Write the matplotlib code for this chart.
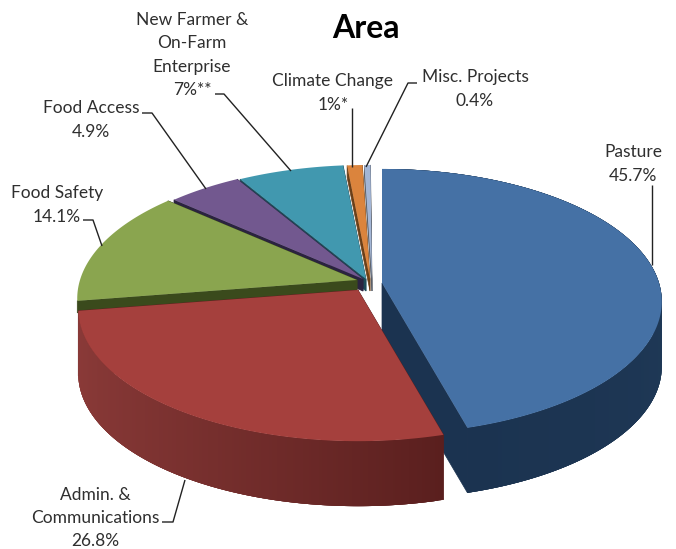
import numpy as np
import matplotlib
matplotlib.use('Agg')
import matplotlib.pyplot as plt
from matplotlib.collections import PolyCollection
from matplotlib.colors import to_rgb

# Share of funding by area, clockwise from twelve o'clock
areas = ['Pasture', 'Admin. &\nCommunications', 'Food Safety', 'Food Access',
         'New Farmer &\nOn-Farm\nEnterprise', 'Climate Change', 'Misc. Projects']
shares = [45.7, 26.8, 14.1, 4.9, 7, 1, 0.4]
share_text = ['45.7%', '26.8%', '14.1%', '4.9%', '7%**', '1%*', '0.4%']

top_colors = ['#4571A5', '#A5403D', '#8AA54F', '#72588F', '#4198AF', '#DB843D', '#A3B6D6']
rim_dark = ['#1B3350', '#5A1F1E', '#3A4A1C', '#2B2340', '#1E4A58', '#6B3F18', '#5A5F68']
rim_light = ['#24405F', '#8A3A38', '#3A4A1C', '#2B2340', '#1E4A58', '#6B3F18', '#5A5F68']

# pie centre of each slice (slices are pulled apart by different amounts)
centres = [(382, 283), (358, 290), (357, 280), (363, 279), (366, 279), (370, 279), (372, 279)]
# drawing order, back to front
order = [0, 6, 5, 4, 3, 2, 1]

RX = 277
RY = 130
PERSP = 0.14
DEPTH = 65
SMALL_DEPTH = 12


def project(theta, centre):
    # tilted circle with a little perspective, theta clockwise from the top
    u = np.sin(theta)
    v = np.cos(theta)
    w = 1 + PERSP * v
    return np.column_stack([centre[0] + RX * u / w, centre[1] - RY * v / w])


fig = plt.figure(figsize=(6.76, 5.49), dpi=100)
ax = fig.add_axes([0, 0, 1, 1])
ax.set_xlim(0, 676)
ax.set_ylim(549, 0)
ax.axis('off')

edges = np.deg2rad(np.concatenate([[0], np.cumsum(shares)]) * 3.6)

for z, i in enumerate(order):
    t = np.linspace(edges[i], edges[i + 1], 200)
    arc = project(t, centres[i])
    apex = np.array(centres[i], dtype=float)
    # only the two big slices show a full rim, the rest only a sliver
    depth = DEPTH if i < 2 else SMALL_DEPTH
    shift = np.array([0, depth])

    # flat cut faces along both radial edges
    for end in (arc[0], arc[-1]):
        face = np.array([apex, end, end + shift, apex + shift])
        ax.add_patch(plt.Polygon(face, closed=True, fc=rim_dark[i], ec=rim_dark[i], lw=0.5, zorder=z))

    # outer rim, shaded along the arc; quads overlap so no seams show
    if i < 2:
        quads = []
        for k in range(len(t) - 1):
            j = min(k + 4, len(t) - 1)
            quads.append(np.vstack([arc[k:j + 1], arc[k:j + 1][::-1] + shift]))
        mix = np.linspace(0, 1, len(quads))[:, None]
        if i == 1:
            mix = 1 - (1 - mix) ** 1.5
        else:
            mix = mix[::-1]
        cols = np.array(to_rgb(rim_dark[i])) * (1 - mix) + np.array(to_rgb(rim_light[i])) * mix
        ax.add_collection(PolyCollection(quads, facecolors=cols, edgecolors='none', zorder=z))

    # top surface
    top = np.vstack([apex, arc])
    ax.add_patch(plt.Polygon(top, closed=True, fc=top_colors[i], ec='none', zorder=z))

# label text: centre x, centre y of the whole block
label_pos = [(633, 164), (95, 518), (57, 205), (91, 120), (192, 55), (333, 93), (475, 89)]
for name, pct, pos in zip(areas, share_text, label_pos):
    ax.text(pos[0], pos[1], name + '\n' + pct, ha='center', va='center', fontsize=12.5,
            family='Lato', color='#2f2f2f', linespacing=1.55, zorder=20)

# leader lines from the labels to their slices
leaders = [
    [(652, 185), (652, 265)],
    [(162, 522), (173, 522), (185, 480)],
    [(83, 220), (93, 220), (102, 246)],
    [(142, 113), (152, 113), (206, 189)],
    [(215, 94), (224, 94), (291, 171)],
    [(352, 108), (352, 167)],
    [(417, 83), (408, 83), (366, 167)],
]
for line in leaders:
    xs, ys = zip(*line)
    ax.plot(xs, ys, color='#222222', lw=1.0, zorder=21, solid_capstyle='butt')

ax.text(366, 29, 'Area', ha='center', va='center', fontsize=23, fontweight='bold',
        family='Lato', color='black', zorder=20)

fig.savefig('out.png', dpi=100)
